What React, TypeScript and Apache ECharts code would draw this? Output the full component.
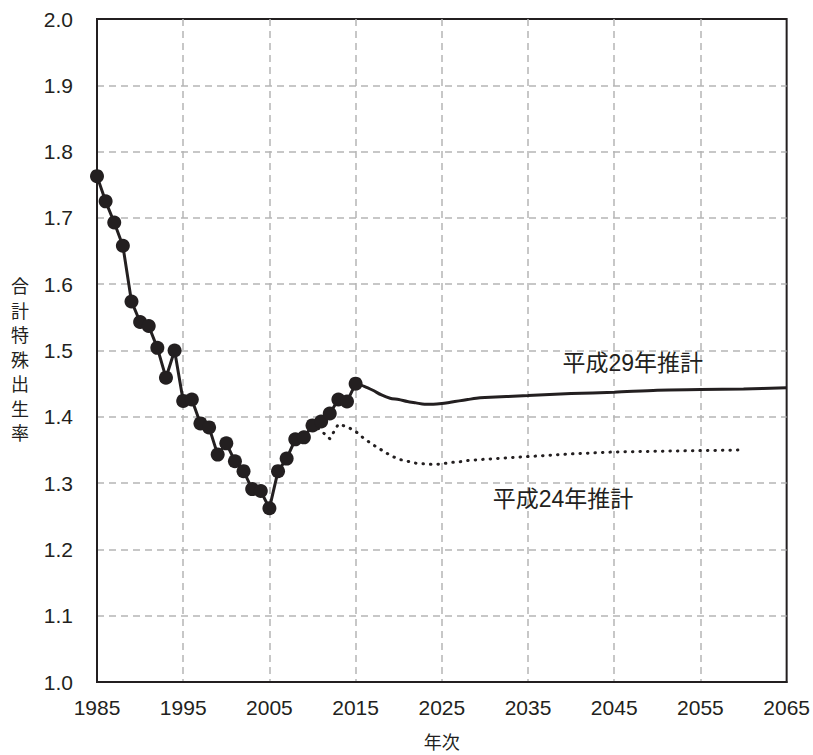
import React, { useEffect, useRef } from "react";
import * as echarts from "echarts";

const obsYears = [1985,1986,1987,1988,1989,1990,1991,1992,1993,1994,1995,1996,1997,1998,1999,2000,2001,2002,2003,2004,2005,2006,2007,2008,2009,2010,2011,2012,2013,2014,2015];
const obsValues = [1.763,1.725,1.693,1.658,1.574,1.543,1.537,1.504,1.459,1.50,1.424,1.426,1.39,1.384,1.343,1.36,1.333,1.318,1.291,1.288,1.262,1.318,1.337,1.366,1.369,1.387,1.393,1.405,1.426,1.423,1.45];

const h29Years = [2015,2016,2017,2018,2019,2020,2021,2022,2023,2024,2025,2026,2027,2028,2029,2030,2035,2040,2045,2050,2055,2060,2065];
const h29Values = [1.45,1.446,1.440,1.433,1.428,1.426,1.423,1.421,1.419,1.419,1.420,1.422,1.424,1.426,1.428,1.429,1.432,1.435,1.437,1.440,1.441,1.442,1.444];

const h24Years = [2010,2011,2012,2013,2014,2015,2016,2017,2018,2019,2020,2021,2022,2023,2024,2025,2026,2027,2028,2029,2030,2035,2040,2045,2050,2055,2060];
const h24Values = [1.39,1.379,1.367,1.389,1.385,1.378,1.367,1.358,1.350,1.342,1.336,1.333,1.330,1.329,1.328,1.329,1.331,1.332,1.334,1.335,1.336,1.340,1.344,1.347,1.348,1.349,1.350];

const xTicks = [1985,1995,2005,2015,2025,2035,2045,2055,2065];
const yTicks = [1.0,1.1,1.2,1.3,1.4,1.5,1.6,1.7,1.8,1.9,2.0];

const labelH29 = "平成29年推計";
const labelH24 = "平成24年推計";
const yName = "合計特殊出生率";
const xName = "年次";

const FONT = "'Liberation Sans', Arial, 'Noto Sans CJK JP', sans-serif";
const CJK = "'Noto Sans CJK JP', sans-serif";
const INK = "#231f20";
const GRID = "#b5b5b5";

export default function App() {
  const ref = useRef<HTMLDivElement>(null);
  useEffect(() => {
    if (!ref.current) return;
    const chart = echarts.init(ref.current, null, { renderer: "svg" });
    const zip = (xs: number[], ys: number[]) => xs.map((x, i) => [x, ys[i]]);
    chart.setOption({
      animation: false,
      backgroundColor: "#ffffff",
      textStyle: { fontFamily: FONT },
      grid: { left: 97, right: 26, top: 19, bottom: 69, show: true, borderColor: INK, borderWidth: 2, backgroundColor: "transparent" },
      xAxis: {
        type: "value",
        min: xTicks[0],
        max: xTicks[xTicks.length - 1],
        interval: 10,
        name: xName,
        nameLocation: "middle",
        nameGap: 50,
        nameTextStyle: { fontSize: 18, color: INK, fontFamily: CJK },
        axisLine: { show: true, lineStyle: { color: INK, width: 2 } },
        axisTick: { show: false },
        axisLabel: { fontSize: 21, color: INK, margin: 15, fontFamily: FONT, formatter: (v: number) => String(v) },
        splitLine: { show: true, showMinLine: false, showMaxLine: false, lineStyle: { color: GRID, width: 1.5, type: [7, 5] } },
      },
      yAxis: {
        type: "value",
        min: yTicks[0],
        max: yTicks[yTicks.length - 1],
        interval: 0.1,
        axisLine: { show: true, lineStyle: { color: INK, width: 2 } },
        axisTick: { show: false },
        axisLabel: { fontSize: 21, color: INK, margin: 24, formatter: (v: number) => v.toFixed(1), fontFamily: FONT },
        splitLine: { show: true, showMinLine: false, showMaxLine: false, lineStyle: { color: GRID, width: 1.5, type: [7, 5] } },
      },
      series: [
        {
          type: "line",
          data: zip(h24Years, h24Values),
          showSymbol: false,
          symbol: "none",
          lineStyle: { color: INK, width: 3, type: [0.5, 7], cap: "round" },
          z: 2,
        },
        {
          type: "line",
          data: zip(h29Years, h29Values),
          showSymbol: false,
          symbol: "none",
          smooth: 0.3,
          lineStyle: { color: INK, width: 3 },
          z: 3,
        },
        {
          type: "line",
          data: zip(obsYears, obsValues),
          symbol: "circle",
          symbolSize: 14,
          itemStyle: { color: INK },
          lineStyle: { color: INK, width: 3 },
          z: 4,
        },
      ],
    });
    chart.setOption({
      graphic: [
        {
          type: "text",
          left: 11,
          top: 273,
          style: {
            text: yName.split("").join("\n"),
            fontSize: 18,
            lineHeight: 24.5,
            fill: INK,
            fontFamily: CJK,
          },
        },
        {
          type: "text",
          x: chart.convertToPixel({ xAxisIndex: 0 }, 2039.0),
          y: chart.convertToPixel({ yAxisIndex: 0 }, 1.481),
          style: { text: labelH29, fontSize: 23, fill: INK, textVerticalAlign: "middle", textAlign: "left", fontFamily: FONT },
        },
        {
          type: "text",
          x: chart.convertToPixel({ xAxisIndex: 0 }, 2030.9),
          y: chart.convertToPixel({ yAxisIndex: 0 }, 1.276),
          style: { text: labelH24, fontSize: 23, fill: INK, textVerticalAlign: "middle", textAlign: "left", fontFamily: FONT },
        },
      ],
    });
    return () => chart.dispose();
  }, []);
  return <div ref={ref} style={{ position: "fixed", left: 0, top: 0, width: 813, height: 755 }} />;
}
